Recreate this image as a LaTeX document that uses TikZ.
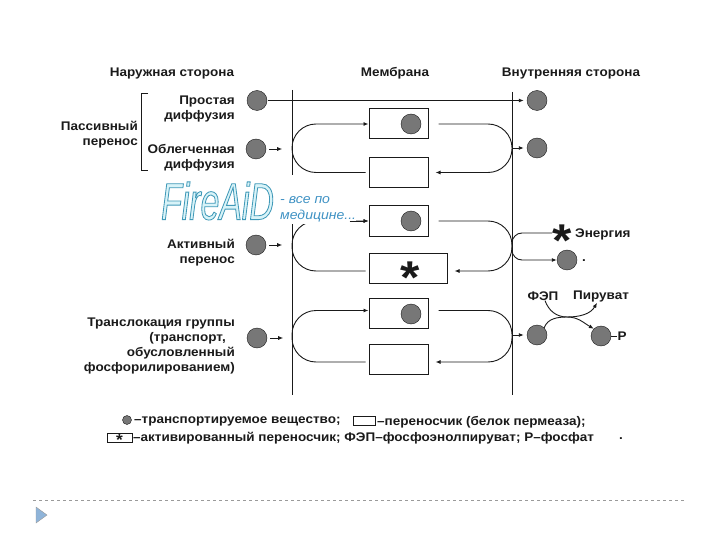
\documentclass[tikz,border=0pt]{standalone}
\usepackage{fontspec}
\setmainfont[FakeStretch=1.08]{Liberation Sans}
\newfontfamily\wordfont[FakeStretch=1.08]{Liberation Sans}
\newfontfamily\firefont[FakeStretch=0.65,FakeBold=1.6]{Liberation Sans}
\usetikzlibrary{arrows.meta,calc,positioning}
\definecolor{ink}{HTML}{1A1A1A}
\definecolor{molgray}{HTML}{777777}
\definecolor{fireblue}{HTML}{3F92C4}
\definecolor{firefill}{HTML}{D8F3F8}
\definecolor{triblue}{HTML}{8FB4D9}
\definecolor{rulegray}{HTML}{9A9A9A}
\newcommand{\starglyph}{\raisebox{-.47em}[.2em][.2em]{*}}
\begin{document}
\begin{tikzpicture}[x=1pt,y=-1pt,>={Latex[length=5pt,width=4pt]},
  every node/.style={font=\fontsize{12.5}{15}\selectfont\bfseries,text=ink,inner sep=0pt},
  mol/.style={circle,draw=ink,fill=molgray,minimum size=20pt},
  smallmol/.style={circle,draw=ink,fill=molgray,minimum size=9pt},
  carrier/.style={draw=ink,line width=1pt,fill=white,minimum height=30pt},
  mem/.style={draw=ink,line width=1pt},
  link/.style={draw=ink,line width=0.9pt},
  starmark/.style={font=\bfseries\fontsize{46}{46}\selectfont}]
  \useasboundingbox (0,0) rectangle (720,540);
  % membrane
  \coordinate (memL) at (292,90);
  \coordinate (memLb) at (292,395);
  \coordinate (memR) at (512,92);
  \coordinate (memRb) at (512,395);
  \draw[mem] (memL) -- (memLb);
  \draw[mem] (memR) -- (memRb);
  % headers
  \node (outer) at (172,73) {Наружная сторона};
  \node (middle) at (395,73) {Мембрана};
  \node (inner) at (571,73) {Внутренняя сторона};
  % left labels
  \node[anchor=east,align=right] (simple) at (235,109) {Простая\\диффузия};
  \node[anchor=east,align=right] (facil) at (235,158) {Облегченная\\диффузия};
  \node[anchor=east,align=right] (passive) at (138,135) {Пассивный\\перенос};
  \node[anchor=east,align=right] (active) at (235,253) {Активный\\перенос};
  \node[anchor=east,align=right] (group) at (235,346) {Транслокация группы\\(транспорт,\kern9pt\\обусловленный\\фосфорилированием)};
  \draw[link] (148,93) -- (141,93) -- (141,170) -- (148,170);
  % carriers
  \foreach \k/\yy in {1/124,2/172.5,3/221,5/313.5,6/359}{
    \node[carrier,minimum width=59pt] (box\k) at (398.5,\yy) {};
  }
  \node[carrier,minimum width=78pt] (box4) at (408,268) {};
  \node[starmark] (star4) at (410,272) {\starglyph};
  \foreach \k/\yy in {1/124,3/221,5/314}{
    \node[mol] (cargo\k) at (411,\yy) {};
  }
  % outer and inner molecules
  \foreach \k/\xx/\yy in {1/257/100.5,2/256/149,3/256/245,4/257/338}{
    \node[mol] (out\k) at (\xx,\yy) {};
  }
  \foreach \k/\xx/\yy in {1/537/100.5,2/537/148,3/567/260,4/537/335}{
    \node[mol] (in\k) at (\xx,\yy) {};
  }
  \node[mol] (phos) at (601,336) {};
  \node (pgroup) at (622,336) {Р};
  % transport
  \draw[->,link,shorten >=3pt,shorten <=1pt] (out1) -- (in1);
  \foreach \k in {2,3,4}{
    \draw[->,link] ([xshift=3pt]out\k.east) -- ++(13,0);
  }
  \foreach \u/\v/\s/\t in {1/2/0/0,3/4/0/-3,5/6/3/-3}{
    \draw[->,link,rounded corners=24pt] ([xshift=-3pt,yshift=\t pt]box\v.west) -- ([yshift=\t pt]box\v.west -| memL) -- ([yshift=\s pt]box\u.west -| memL) -- ([yshift=\s pt]box\u.west);
    \draw[->,link,rounded corners=24pt] ([xshift=10pt,yshift=\s pt]box\u.east) -- ([yshift=\s pt]box\u.east -| memR) -- ([yshift=\t pt]box\v.east -| memR) -- ([xshift=7pt,yshift=\t pt]box\v.east);
  }
  \draw[->,link,shorten >=3pt] (in2 -| memR) -- (in2);
  \draw[->,link,shorten >=3pt] (in4 -| memR) -- (in4);
  % energy branch
  \coordinate (memJ) at (512,245);
  \node[starmark] (energystar) at (562,235) {\starglyph};
  \node[anchor=west] (energy) at (575,234) {Энергия};
  \draw[link,rounded corners=10pt] (memJ) |- ([yshift=2pt]energystar.west);
  \draw[->,link,rounded corners=10pt] (memJ) |- (in3.west);
  \node (dot1) at (584,261) {.};
  % PEP reaction
  \coordinate (kiss) at (567,317);
  \node (pep) at (543,296) {ФЭП};
  \node (pyr) at (601,296) {Пируват};
  \draw[->,link] ([xshift=2pt]pep.south) to[out=-70,in=180] (kiss) to[out=0,in=150] (phos.north west);
  \draw[->,link] (in4.north east) to[out=70,in=180] (kiss) to[out=0,in=-120] ([xshift=-4pt,yshift=-1pt]pyr.south);
  \draw[link] (phos) -- (pgroup);
  % watermark
  \node[fill=white,minimum width=196pt,minimum height=49pt] (fireaid) at (258,200) {};
  \node[anchor=west,font=\firefont\itshape\fontsize{52}{52}\selectfont,text=firefill] (firelogo) at (161,201) {\special{pdf:code 0.25 0.6 0.72 RG}FireAiD};
  \node[anchor=west,font=\wordfont\itshape\fontsize{13}{16}\selectfont,text=fireblue,align=left] (fireword) at (280,209) {- все по\\медицине...};
  \draw[->,link] ([xshift=-19pt]box3.west) -- (box3.west);
  % legend
  \node[smallmol] (keymol) at (127,420) {};
  \node[anchor=west] (keymoltext) at (134,421) {–транспортируемое вещество;};
  \node[draw=ink,line width=0.6pt,minimum width=22pt,minimum height=9pt] (keybox) at (364,421) {};
  \node[anchor=west] (keyboxtext) at (377,422) {–переносчик (белок пермеаза);};
  \node[draw=ink,line width=0.6pt,minimum width=25pt,minimum height=9pt,font=\bfseries\fontsize{16}{16}\selectfont] (keystar) at (119.5,437.5) {\starglyph};
  \node[anchor=west] (keystartext) at (133,438) {–активированный переносчик; ФЭП–фосфоэнолпируват; Р–фосфат};
  \node (dot2) at (621,439) {.};
  % slide footer
  \coordinate (footL) at (33,500);
  \coordinate (footR) at (686,500);
  \draw[rulegray,dashed,line width=0.7pt] (footL) -- (footR);
  \fill[triblue,draw=rulegray] (36,507) -- (47,515) -- (36,523) -- cycle;
\end{tikzpicture}
\end{document}
